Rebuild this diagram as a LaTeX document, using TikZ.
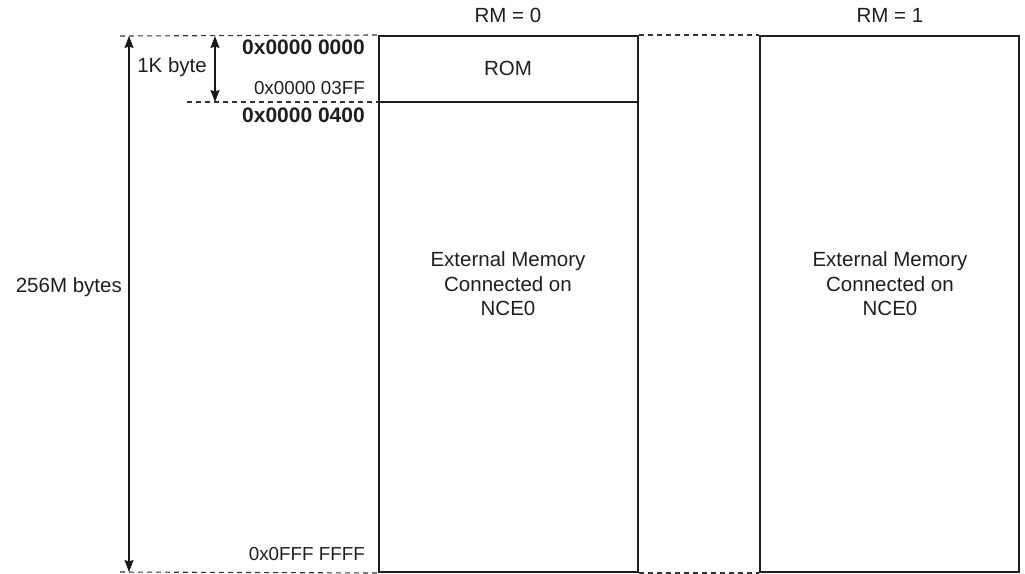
\documentclass[tikz,border=0pt]{standalone}
\usepackage{fontspec}
\setmainfont{Liberation Sans}
\usetikzlibrary{arrows.meta}
\begin{document}
\begin{tikzpicture}[x=1pt,y=-1pt,
  txt/.style={font=\fontsize{20.5}{24.5}\selectfont, inner sep=0pt, text=black!88},
  addrb/.style={font=\fontsize{21}{24}\selectfont\bfseries, inner sep=0pt, anchor=east, text=black!88},
  addr/.style={font=\fontsize{18.8}{22}\selectfont, inner sep=0pt, anchor=east, text=black!88},
  membox/.style={draw=black!88, line width=2pt, inner sep=0pt, minimum width=259pt, minimum height=536pt},
  guide/.style={draw=black!80, dash pattern=on 5pt off 4pt, line width=1.1pt},
  dim/.style={draw=black!90, {Stealth[length=12pt,width=9pt,inset=1.5pt]}-{Stealth[length=12pt,width=9pt,inset=1.5pt]}, line width=1.1pt}]
\useasboundingbox (0,0) rectangle (1025,573);
% memory boxes
\node[membox] (m0) at (508.5,304) {};
\node[membox] (m1) at (889.5,304) {};
% headers
\node[txt] (rm0) at (508,15) {RM = 0};
\node[txt] (rm1) at (890,15) {RM = 1};
% ROM divider
\coordinate (romL) at (379,102);
\coordinate (romR) at (638,102);
\draw[draw=black!88, line width=1.1pt] (romL) -- (romR);
\node[txt] (rom) at (508,68) {ROM};
% contents
\node[txt, align=center] (ext0) at (508,284) {External Memory\\Connected on\\NCE0};
\node[txt, align=center] (ext1) at (890,284) {External Memory\\Connected on\\NCE0};
% guide lines
\coordinate (gtop) at (120,36);
\coordinate (gbot) at (120,572);
\coordinate (gmid) at (187,102);
\draw[guide] (gtop) -- (m0.north west);
\draw[guide] (m0.north east) -- (m1.north west);
\draw[guide] (gbot) -- (m0.south west);
\draw[guide] (m0.south east) -- (m1.south west);
\draw[guide] (gmid) -- (romL);
% dimension arrows
\coordinate (a1) at (129,36);
\coordinate (a2) at (129,572);
\coordinate (b1) at (215,36);
\coordinate (b2) at (215,102);
\draw[dim] (a1) -- (a2);
\draw[dim] (b1) -- (b2);
\node[txt, anchor=east] (l256) at (122,287) {256M bytes};
\node[txt, anchor=east] (l1k) at (207,67) {1K byte};
% addresses
\node[addrb] (ad0) at (365,47) {0x0000 0000};
\node[addr] (ad1) at (365,88) {0x0000 03FF};
\node[addrb] (ad2) at (365,115) {0x0000 0400};
\node[addr] (ad3) at (365,554) {0x0FFF FFFF};
\end{tikzpicture}
\end{document}
